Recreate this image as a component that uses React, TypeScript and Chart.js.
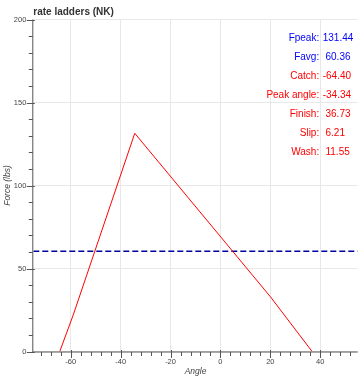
import React, { useEffect, useRef } from "react";
import { Chart, registerables } from "chart.js";

Chart.register(...registerables);

const angle = [-64.4, -59, -34.34, 20, 36.73];
const force = [0, 22, 131.44, 33, 0];
const favg = 60.36;
const xRange = [-75, 55];
const yRange = [0, 200];
const xMajor = [-60, -40, -20, 0, 20, 40];
const yMajor = [0, 50, 100, 150, 200];
const statLabels = ["Fpeak:", "Favg:", "Catch:", "Peak angle:", "Finish:", "Slip:", "Wash:"];
const statValues = [131.44, 60.36, -64.4, -34.34, 36.73, 6.21, 11.55];
const statColors = ["blue", "blue", "red", "red", "red", "red", "red"];
const titleText = "rate ladders (NK)";
const xTitle = "Angle";
const yTitle = "Force (lbs)";

const FONT = "'Liberation Sans', Arial, Helvetica, sans-serif";

function fmt(v: number) {
  return (v >= 0 && v < 100 ? " " : "") + v.toFixed(2);
}

function minorList(min: number, max: number, step: number) {
  const out: number[] = [];
  const start = Math.ceil(min / step) * step;
  for (let v = start; v <= max + 1e-9; v += step) out.push(Math.round(v * 100) / 100);
  return out;
}

const decor = {
  id: "decor",
  afterDraw(chart: any) {
    const ctx = chart.ctx as CanvasRenderingContext2D;
    const ca = chart.chartArea;
    const xs = chart.scales.x;
    const ys = chart.scales.y;
    ctx.save();
    // axes lines
    ctx.strokeStyle = "#555";
    ctx.lineWidth = 1;
    ctx.beginPath();
    ctx.moveTo(ca.left - 0.5, ca.top);
    ctx.lineTo(ca.left - 0.5, ca.bottom + 0.5);
    ctx.lineTo(ca.right, ca.bottom + 0.5);
    ctx.stroke();
    // ticks
    ctx.beginPath();
    const xMinor = minorList(xRange[0], xRange[1], 4);
    xMinor.forEach((v) => {
      const px = Math.round(xs.getPixelForValue(v)) + 0.5;
      const major = xMajor.includes(v);
      ctx.moveTo(px, ca.bottom + 0.5 - (major ? 2 : 0));
      ctx.lineTo(px, ca.bottom + 0.5 + (major ? 6 : 4));
    });
    const yMinor = minorList(yRange[0], yRange[1], 10);
    yMinor.forEach((v) => {
      const py = Math.round(ys.getPixelForValue(v)) + 0.5;
      const major = yMajor.includes(v);
      ctx.moveTo(ca.left - 0.5 - (major ? 6 : 4), py);
      ctx.lineTo(ca.left - 0.5 + (major ? 2 : 0), py);
    });
    ctx.stroke();

    // title
    ctx.fillStyle = "#333";
    ctx.font = `bold 10px ${FONT}`;
    ctx.textAlign = "left";
    ctx.textBaseline = "middle";
    ctx.fillText(titleText, ca.left, 12.5);

    // axis titles
    ctx.fillStyle = "#444";
    ctx.font = `italic 8.5px ${FONT}`;
    ctx.textAlign = "center";
    ctx.fillText(xTitle, (ca.left + ca.right) / 2, 372);
    ctx.save();
    ctx.translate(8, (ca.top + ca.bottom) / 2);
    ctx.rotate(-Math.PI / 2);
    ctx.fillText(yTitle, 0, 0);
    ctx.restore();

    // stats
    ctx.font = `10px ${FONT}`;
    statLabels.forEach((lab, i) => {
      const y = ca.top + 19 + i * 19;
      ctx.fillStyle = statColors[i];
      ctx.textAlign = "right";
      ctx.fillText(lab, ca.right - 38.5, y);
      ctx.textAlign = "left";
      ctx.fillText(fmt(statValues[i]), ca.right - 35, y);
    });
    ctx.restore();
  },
};

export default function App() {
  const ref = useRef<HTMLCanvasElement>(null);
  useEffect(() => {
    if (!ref.current) return;
    const chart = new Chart(ref.current, {
      type: "line",
      data: {
        datasets: [
          {
            data: angle.map((a, i) => ({ x: a, y: force[i] })),
            borderColor: "red",
            borderWidth: 1,
            pointRadius: 0,
            fill: false,
            tension: 0,
          },
          {
            data: [
              { x: xRange[0], y: favg },
              { x: xRange[1], y: favg },
            ],
            borderColor: "#0000a0",
            borderWidth: 1.6,
            borderDash: [6, 3],
            pointRadius: 0,
            fill: false,
          },
        ],
      },
      options: {
        responsive: false,
        animation: false,
        devicePixelRatio: 1,
        layout: { padding: { top: 19.5, right: 3.3, left: 0, bottom: 0 } },
        plugins: { legend: { display: false }, tooltip: { enabled: false }, title: { display: false } },
        scales: {
          x: {
            type: "linear",
            min: xRange[0],
            max: xRange[1],
            afterBuildTicks: (s: any) => {
              s.ticks = minorList(xRange[0], xRange[1], 4).map((v) => ({ value: v }));
            },
            afterFit: (s: any) => {
              s.height = 28.5;
            },
            border: { display: false },
            grid: {
              drawTicks: false,
              color: (c: any) => (xMajor.includes(c.tick?.value) ? "#e8e8e8" : "transparent"),
              lineWidth: 1,
            },
            ticks: {
              autoSkip: false,
              maxRotation: 0,
              padding: 6,
              color: "#444",
              font: { family: FONT, size: 7.5 },
              callback: (v: any) => (xMajor.includes(Number(v)) ? String(v) : ""),
            },
          },
          y: {
            type: "linear",
            min: yRange[0],
            max: yRange[1],
            afterBuildTicks: (s: any) => {
              s.ticks = minorList(yRange[0], yRange[1], 10).map((v) => ({ value: v }));
            },
            afterFit: (s: any) => {
              s.width = 33.3;
            },
            border: { display: false },
            grid: {
              drawTicks: false,
              color: (c: any) => (yMajor.includes(c.tick?.value) ? "#e8e8e8" : "transparent"),
              lineWidth: 1,
            },
            ticks: {
              autoSkip: false,
              padding: 7,
              color: "#444",
              font: { family: FONT, size: 7.5 },
              callback: (v: any) => (yMajor.includes(Number(v)) ? String(v) : ""),
            },
          },
        },
      },
      plugins: [decor],
    });
    return () => chart.destroy();
  }, []);
  return (
    <div style={{ position: "fixed", left: 0, top: 0, width: 361, height: 380, background: "#fff" }}>
      <canvas ref={ref} width={361} height={380} style={{ display: "block" }} />
    </div>
  );
}
